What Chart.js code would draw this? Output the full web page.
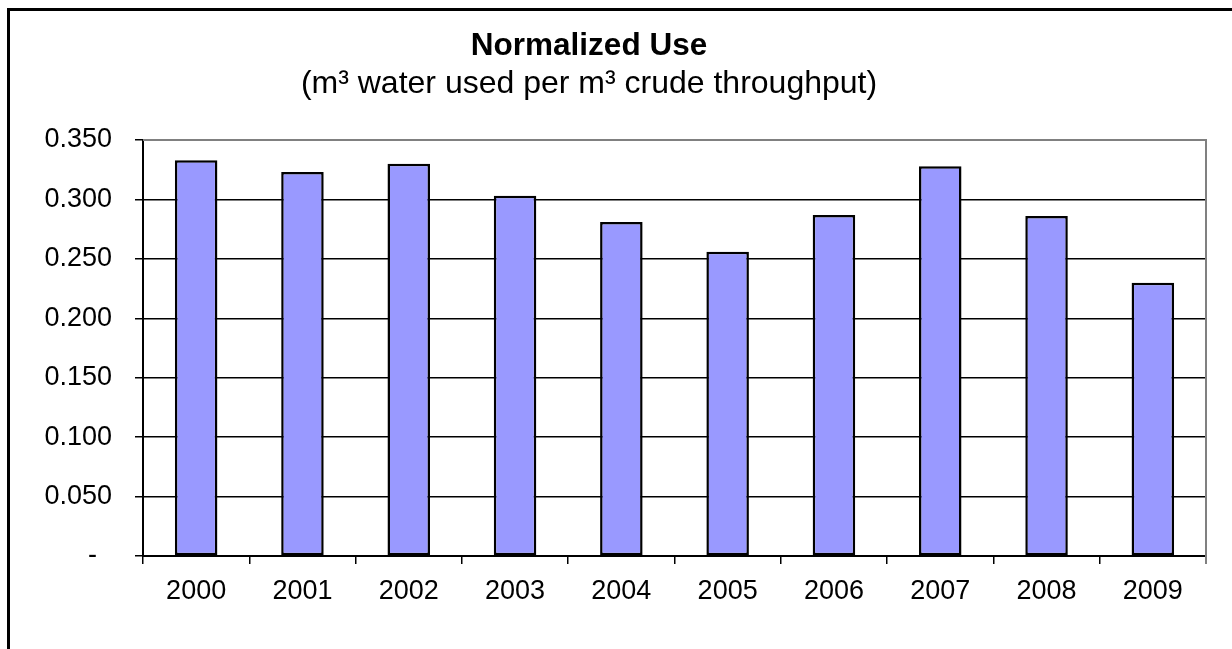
<!DOCTYPE html>
<html>
<head>
<meta charset="utf-8">
<script src="https://cdn.jsdelivr.net/npm/chart.js@4"></script>
<style>
  html, body { margin: 0; padding: 0; background: #fff; overflow: hidden; }
  #wrap { position: relative; width: 1232px; height: 649px; }
</style>
</head>
<body>
<div id="wrap"><canvas id="useChart" width="1232" height="649"></canvas></div>
<script>
const years = ['2000', '2001', '2002', '2003', '2004', '2005', '2006', '2007', '2008', '2009'];
const normalizedUse = [0.333, 0.323, 0.330, 0.303, 0.281, 0.256, 0.287, 0.328, 0.286, 0.230];
const yTicks = [0, 0.05, 0.10, 0.15, 0.20, 0.25, 0.30, 0.35];
const titleText = 'Normalized Use';
const subtitleText = '(m³ water used per m³ crude throughput)';

const FONT = '"Liberation Sans", Arial, sans-serif';

// frame of the chart box (only top and left edges are visible in the picture)
const frameLines = {
  id: 'frameLines',
  beforeDraw(chart) {
    const ctx = chart.ctx;
    ctx.save();
    ctx.fillStyle = '#fff';
    ctx.fillRect(0, 0, chart.width, chart.height);
    ctx.strokeStyle = '#000';
    ctx.lineWidth = 3;
    ctx.beginPath();
    ctx.moveTo(8.5, chart.height + 5);
    ctx.lineTo(8.5, 9.5);
    ctx.lineTo(chart.width + 5, 9.5);
    ctx.stroke();
    ctx.restore();
  },
  afterDraw(chart) {
    const ctx = chart.ctx;
    const area = chart.chartArea;
    ctx.save();
    ctx.strokeStyle = '#808080';
    ctx.lineWidth = 2;
    ctx.beginPath();
    ctx.moveTo(area.left, area.top);
    ctx.lineTo(area.right, area.top);
    ctx.lineTo(area.right, area.bottom + 8);
    ctx.stroke();
    ctx.restore();
  }
};

const titleLines = {
  id: 'titleLines',
  afterDraw(chart) {
    const ctx = chart.ctx;
    ctx.save();
    ctx.fillStyle = '#000';
    ctx.textAlign = 'center';
    ctx.textBaseline = 'alphabetic';
    ctx.font = 'bold 31.5px ' + FONT;
    ctx.fillText(titleText, 589, 55);
    ctx.font = '32px ' + FONT;
    ctx.fillText(subtitleText, 589, 93);
    ctx.restore();
  }
};

const ctx = document.getElementById('useChart').getContext('2d');

new Chart(ctx, {
  type: 'bar',
  data: {
    labels: years,
    datasets: [{
      label: 'Normalized Use',
      data: normalizedUse,
      backgroundColor: '#9999FF',
      borderColor: '#000',
      borderWidth: 2.5,
      borderSkipped: false,
      barPercentage: 0.4,
      categoryPercentage: 1
    }]
  },
  options: {
    responsive: false,
    animation: false,
    devicePixelRatio: 1,
    layout: {
      padding: { top: 140, left: 0, right: 26, bottom: 0 }
    },
    scales: {
      x: {
        offset: true,
        afterFit(scale) { scale.height = 93; },
        grid: {
          display: true,
          offset: true,
          drawOnChartArea: false,
          tickLength: 8,
          color: '#000',
          lineWidth: 1.5
        },
        border: { display: true, color: '#000', width: 2 },
        ticks: {
          color: '#000',
          padding: 11,
          font: { family: FONT, size: 27 }
        }
      },
      y: {
        min: 0,
        max: 0.35,
        afterFit(scale) { scale.width = 143; },
        afterBuildTicks(scale) {
          scale.ticks = yTicks.map(v => ({ value: v }));
        },
        grid: {
          tickLength: 8,
          color: '#000',
          tickColor: '#000',
          lineWidth: 1.5
        },
        border: { display: true, color: '#000', width: 2 },
        ticks: {
          color: '#000',
          padding: 23,
          font: { family: FONT, size: 27 },
          callback: function (value) {
            return value === 0 ? '-  ' : value.toFixed(3);
          }
        }
      }
    },
    plugins: {
      legend: { display: false },
      tooltip: { enabled: false },
      title: { display: false }
    }
  },
  plugins: [frameLines, titleLines]
});
</script>
</body>
</html>
